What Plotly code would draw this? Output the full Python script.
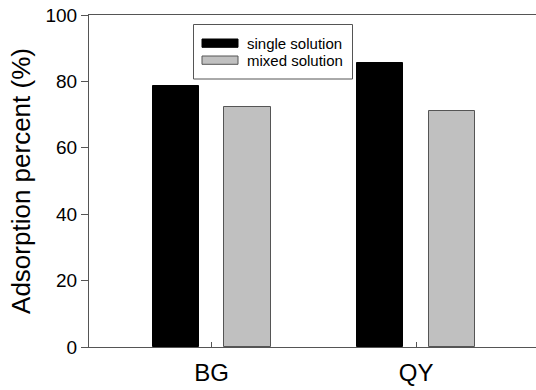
import plotly.graph_objects as go

categories = ["BG", "QY"]
single_solution = [78.6, 85.4]
mixed_solution = [72.2, 71.1]
y_ticks = [0, 20, 40, 60, 80, 100]

FONT = "Arial, 'Liberation Sans', sans-serif"

fig = go.Figure()
fig.add_trace(go.Bar(x=categories, y=single_solution, name="single solution",
                     width=0.226, offset=-0.289,
                     marker=dict(color="black", line=dict(color="black", width=1))))
fig.add_trace(go.Bar(x=categories, y=mixed_solution, name="mixed solution",
                     width=0.226, offset=0.062,
                     marker=dict(color="#c0c0c0", line=dict(color="#555555", width=1))))

# legend drawn as box + swatches + labels (paper coords)
W, H = 536, 390
L, T, B, R = 89, 15, 43, 0
pw, ph = W - L - R, H - T - B
def px(x): return (x - L) / pw
def py(y): return 1 - (y - T) / ph

shapes = [
    dict(type="rect", xref="paper", yref="paper", x0=px(193.5), x1=px(352.5), y0=py(79), y1=py(24.5),
         line=dict(color="#555555", width=1), fillcolor="white"),
    dict(type="rect", xref="paper", yref="paper", x0=px(202), x1=px(238), y0=py(47.3), y1=py(39),
         line=dict(color="black", width=1), fillcolor="black"),
    dict(type="rect", xref="paper", yref="paper", x0=px(202), x1=px(238), y0=py(64.3), y1=py(56),
         line=dict(color="#555555", width=1), fillcolor="#c0c0c0"),
]
annotations = [
    dict(xref="paper", yref="paper", x=px(245), y=py(43.5), text="single solution", showarrow=False,
         xanchor="left", yanchor="middle", font=dict(family=FONT, size=15, color="black")),
    dict(xref="paper", yref="paper", x=px(245), y=py(60.5), text="mixed solution", showarrow=False,
         xanchor="left", yanchor="middle", font=dict(family=FONT, size=15, color="black")),
]

fig.update_layout(
    width=W, height=H,
    margin=dict(l=L, r=R, t=T, b=B),
    plot_bgcolor="white", paper_bgcolor="white",
    showlegend=False,
    bargap=0,
    shapes=shapes, annotations=annotations,
    font=dict(family=FONT, color="black"),
    xaxis=dict(range=[-0.6, 1.586], showline=True, linecolor="#555555", linewidth=1.2,
               mirror=True, ticks="inside", ticklen=5, tickcolor="#555555",
               ticklabelstandoff=4,
               tickfont=dict(size=24, family=FONT, color="black"), showgrid=False),
    yaxis=dict(range=[0, 100], tickvals=y_ticks, showline=True, linecolor="#555555", linewidth=1.2,
               ticks="outside", ticklen=7, tickcolor="#555555", showgrid=False, zeroline=False,
               tickfont=dict(size=19, family=FONT, color="black"),
               title=dict(text="Adsorption percent (%)", font=dict(size=26, family=FONT, color="black"),
                          standoff=7)),
)

fig.write_html("out.html", config={"displayModeBar": False},
               post_script="document.body.style.margin='0px';")
